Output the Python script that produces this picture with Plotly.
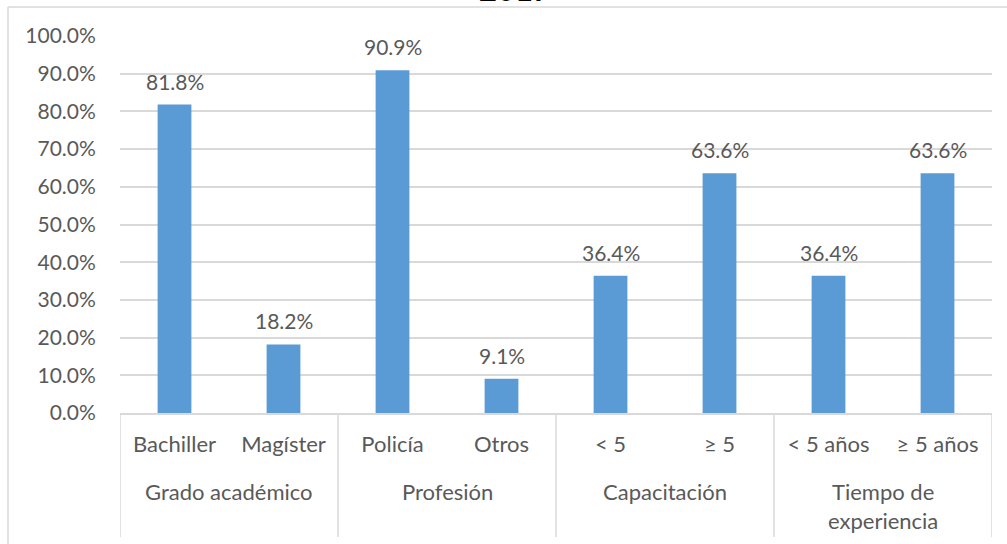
import plotly.graph_objects as go

categories = ["Bachiller", "Magíster", "Policía", "Otros", "< 5", "≥ 5", "< 5 años", "≥ 5 años"]
values = [0.818, 0.182, 0.909, 0.091, 0.364, 0.636, 0.364, 0.636]
group_names = ["Grado académico", "Profesión", "Capacitación", "Tiempo de<br>experiencia"]
group_sizes = [2, 2, 2, 2]
title_text = "2017"

FONT = "Lato"
TXT = "#595959"
GRID = "#D9D9D9"
NUM = 21
WORD = 22

fig = go.Figure(go.Bar(
    x=categories, y=values,
    marker=dict(color="#5B9BD5", line=dict(width=0)),
    width=0.31,
))

L, R, T, B = 120, 15, 36, 131
W, H = 1007, 544
pw, ph = W - L - R, H - T - B
xb = (8 - L) / pw
yb = 1 + (T - 7) / ph

shapes = [
    dict(type="line", xref="paper", yref="paper", x0=xb, x1=xb, y0=-1, y1=yb,
         line=dict(color=GRID, width=1.5)),
    dict(type="line", xref="paper", yref="paper", x0=xb, x1=2, y0=yb, y1=yb,
         line=dict(color=GRID, width=1.5)),
]
annotations = [
    dict(text="<b>" + title_text + "</b>", xref="paper", yref="paper",
         x=(515 - L) / pw, y=1 + (T - 10.5) / ph, xanchor="center", yanchor="bottom",
         showarrow=False, font=dict(family=FONT, size=31, color="black")),
]

# value labels above each bar, on the data scale
for c, v in zip(categories, values):
    annotations.append(dict(
        text=f"{v*100:.1f}%", xref="x", yref="y", x=c, y=v,
        xanchor="center", yanchor="bottom", yshift=9, showarrow=False,
        font=dict(family=FONT, size=NUM, color=TXT),
    ))

# group dividers and labels, placed on the category scale
start = 0
bounds = [-0.5]
for name, n in zip(group_names, group_sizes):
    center = start + (n - 1) / 2
    annotations.append(dict(
        text=name, xref="x", yref="paper", x=center, y=-(476 - 413) / ph,
        xanchor="center", yanchor="top", showarrow=False,
        font=dict(family=FONT, size=WORD, color=TXT),
    ))
    start += n
    bounds.append(start - 0.5)
for b in bounds:
    shapes.append(dict(type="line", xref="x", yref="paper", x0=b, x1=b,
                       y0=0, y1=-(537 - 413) / ph, line=dict(color=GRID, width=1.5)))

fig.update_layout(
    width=W, height=H,
    margin=dict(l=L, r=R, t=T, b=B, autoexpand=False),
    paper_bgcolor="white", plot_bgcolor="white",
    showlegend=False,
    font=dict(family=FONT, size=NUM, color=TXT),
    xaxis=dict(
        type="category", range=[-0.5, len(categories) - 0.5],
        showline=True, linecolor=GRID, linewidth=1.5,
        ticks="outside", ticklen=11, tickcolor="rgba(0,0,0,0)",
        tickfont=dict(family=FONT, size=WORD, color=TXT),
        automargin=False,
    ),
    yaxis=dict(
        range=[0, 1.0], dtick=0.1, tickformat=".1%",
        showgrid=True, gridcolor=GRID, gridwidth=1.5,
        zeroline=False, showline=False, ticks="outside", ticklen=19,
        tickcolor="rgba(0,0,0,0)",
        tickfont=dict(family=FONT, size=NUM, color=TXT),
        automargin=False,
    ),
    shapes=shapes,
    annotations=annotations,
)

fig.write_html("out.html", config={"displayModeBar": False},
               post_script="document.body.style.margin='0';")
